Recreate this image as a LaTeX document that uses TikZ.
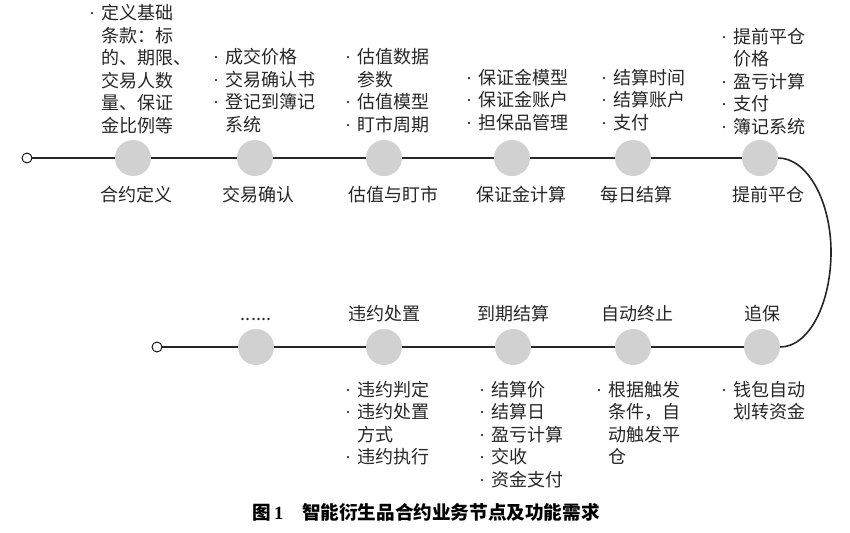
\documentclass[tikz,border=0pt]{standalone}
\usepackage{fontspec}
\setmainfont{Noto Sans CJK SC}
\newfontfamily\numfont{Liberation Serif}
\usetikzlibrary{positioning}

% bullet and hanging indent for the note lists
\newcommand{\itm}{\makebox[13pt][l]{\hspace{1pt}{\numfont ·}}}
\newcommand{\cnt}{\hspace*{13pt}}

\tikzset{
	stage/.style={circle, fill=black!18, minimum size=36pt, inner sep=0pt},
	endpt/.style={circle, draw=black, fill=white, line width=0.9pt, minimum size=10pt, inner sep=0pt},
	track/.style={line width=1.6pt, color=black!85},
	title/.style={font=\fontsize{18}{22}\selectfont, text=black!85, inner sep=0pt},
	notes/.style={align=left, inner sep=0pt, text=black!85, font=\fontsize{18}{22.5}\selectfont},
}

\begin{document}
\begin{tikzpicture}[x=1pt, y=-1pt]
	\useasboundingbox (0,0) rectangle (850,532);

	% upper row of stages
	\node[endpt] (s1) at (27,158) {};
	\foreach \n/\x in {hy/133, jy/255, gz/384, bzj/512, mr/633, tq/760}
		\node[stage] (\n) at (\x,158) {};

	% lower row of stages
	\node[endpt] (s2) at (157,347) {};
	\foreach \n/\x in {sl/256, wy/384, dq/513, zd/633, zb/762}
		\node[stage] (\n) at (\x,347) {};

	\draw[track] (s1) -- (hy) -- (jy) -- (gz) -- (bzj) -- (mr) -- (tq);
	\coordinate (turn) at (831,252);
	\draw[track] (tq.east) .. controls +(29,0) and +(0,-51) .. (turn)
		.. controls +(0,51) and +(29,0) .. (zb.east);
	\draw[track] (zb) -- (zd) -- (dq) -- (wy) -- (sl) -- (s2);

	% stage names
	\foreach \n/\x/\t in {hy/136/合约定义, jy/258/交易确认, gz/393/估值与盯市, bzj/521/保证金计算, mr/636/每日结算, tq/768/提前平仓}
		\node[title] (\n-t) at (\x,195) {\t};
	\foreach \n/\x/\t in {wy/384/违约处置, dq/513/到期结算, zd/637/自动终止, zb/762/追保}
		\node[title] (\n-t) at (\x,314) {\t};
	\node[title, anchor=base] (sl-t) at (256,320) {......};

	% function notes above the upper row
	\node[notes, anchor=south west] (hy-n) at (88,134)
		{\itm 定义基础\\ \cnt 条款：标\\ \cnt 的、期限、\\ \cnt 交易人数\\ \cnt 量、保证\\ \cnt 金比例等};
	\node[notes, anchor=south west] (jy-n) at (212,133)
		{\itm 成交价格\\ \itm 交易确认书\\ \itm 登记到簿记\\ \cnt 系统};
	\node[notes, anchor=south west] (gz-n) at (344,133)
		{\itm 估值数据\\ \cnt 参数\\ \itm 估值模型\\ \itm 盯市周期};
	\node[notes, anchor=south west] (bzj-n) at (465,131)
		{\itm 保证金模型\\ \itm 保证金账户\\ \itm 担保品管理};
	\node[notes, anchor=south west] (mr-n) at (600,131)
		{\itm 结算时间\\ \itm 结算账户\\ \itm 支付};
	\node[notes, anchor=south west] (tq-n) at (720,135)
		{\itm 提前平仓\\ \cnt 价格\\ \itm 盈亏计算\\ \itm 支付\\ \itm 簿记系统};

	% function notes below the lower row
	\node[notes, anchor=north west] (wy-n) at (344,381)
		{\itm 违约判定\\ \itm 违约处置\\ \cnt 方式\\ \itm 违约执行};
	\node[notes, anchor=north west] (dq-n) at (478,381)
		{\itm 结算价\\ \itm 结算日\\ \itm 盈亏计算\\ \itm 交收\\ \itm 资金支付};
	\node[notes, anchor=north west] (zd-n) at (595,381)
		{\itm 根据触发\\ \cnt 条件，自\\ \cnt 动触发平\\ \cnt 仓};
	\node[notes, anchor=north west] (zb-n) at (720,381)
		{\itm 钱包自动\\ \cnt 划转资金};

	% caption
	\node[inner sep=0pt, font=\fontsize{18.6}{20}\selectfont\bfseries] (cap) at (426,512)
		{图\,{\numfont\bfseries 1}\quad 智能衍生品合约业务节点及功能需求};
\end{tikzpicture}
\end{document}
